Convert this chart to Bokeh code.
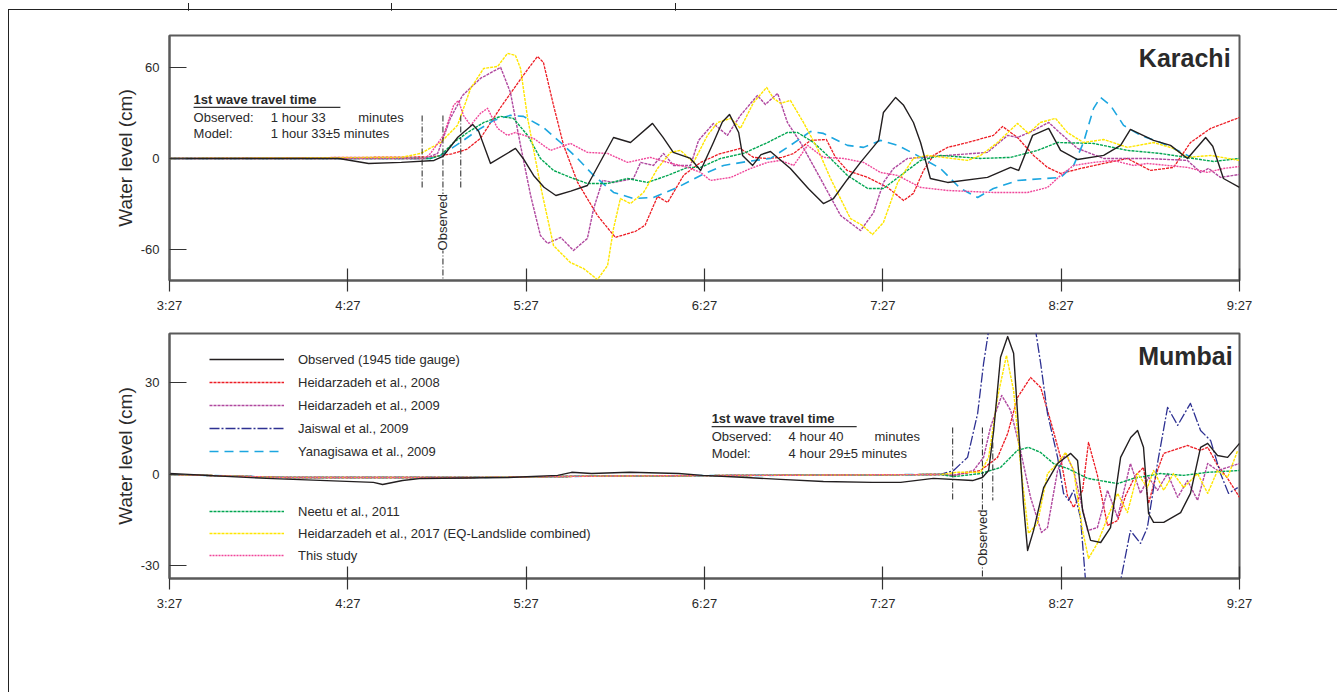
import math
from bokeh.plotting import figure
from bokeh.models import Range1d, FixedTicker, Label, BoxAnnotation, Legend, LegendItem, Div, Spacer
from bokeh.layouts import column, row
from bokeh.embed import file_html
from bokeh.resources import INLINE

# ---------------- data (minutes after 3:27, water level in cm) ----------------
time_ticks = [0, 60, 120, 180, 240, 300, 360]
time_labels = ["3:27", "4:27", "5:27", "6:27", "7:27", "8:27", "9:27"]
karachi_yticks = [-60, 0, 60]
mumbai_yticks = [-30, 0, 30]

series_names = ["Observed (1945 tide gauge)", "Heidarzadeh et al., 2008", "Heidarzadeh et al., 2009",
                "Jaiswal et al., 2009", "Yanagisawa et al., 2009", "Neetu et al., 2011",
                "Heidarzadeh et al., 2017 (EQ-Landslide combined)", "This study"]

k_obs = [(0, 0), (57, 0), (67, -3.3), (78, -2.6), (89, -1.3), (92, 1.3), (97, 14), (102, 22.4), (104, 18), (108, -3.3),
         (116.4, 6.6), (119, 0), (122.5, -11.2), (126, -19), (130, -24.4), (135, -21.5), (140.6, -17.8), (145, -2),
         (149.4, 13.8), (155.1, 10.5), (162.5, 23.1), (166, 14), (169.5, 4), (175.3, 0), (178.7, -7.9), (183, 10.5),
         (186, 24), (188.4, 29), (191.5, 17.1), (192.8, 2), (196.2, -4.6), (199, 2.5), (202.2, 4.6), (208.9, -6.6),
         (215, -20), (220, -29.7), (223.4, -26.4), (228, -14), (232.5, -2.6), (238.6, 11.9), (240.2, 30.3),
         (244.3, 40.2), (247, 35), (250.3, 23.7), (252.7, 10.5), (256, -13.2), (261.8, -15.8), (275.2, -12.5),
         (283, -5.9), (285.7, -7.9), (290.4, 15.2), (295.8, 19.8), (299.8, 5.3), (305.5, -0.7), (314.3, 2), (320, 8.6),
         (323.3, 19.1), (331.1, 11.9), (336.8, 8.6), (342.5, 0), (348.6, 13.8), (351, 8), (354.6, -13.2), (360, -19.1)]
k_h2008 = [(0, 0), (88, 1), (95, 3), (100, 6), (104.6, 13.2), (111.4, 33.6), (119, 54.7), (123.8, 67.2), (125.8, 63.3),
           (129.2, 35), (132.6, 8.6), (137.3, -15.8), (144, -37.6), (150, -52), (156.8, -48), (160, -44), (164.2, -25),
           (167.6, -29), (173, -11), (178.7, -2.6), (185, 3), (192, 6.6), (196.5, 0.7), (201, 0), (206, 0.7), (210, 3.3),
           (215.7, 11.9), (221, 12.5), (224, 1), (228, -7.9), (234.9, -12.5), (241.6, -19.1), (247, -27.7), (250.3, -23),
           (253.7, -7.9), (257, 2), (261.8, 7.3), (268.5, 10.5), (277.2, 15.2), (280.3, 21.1), (285.3, 13.8),
           (290.7, 2), (295.4, -5.9), (299.8, -9.9), (306.5, -6.6), (314.3, -3.3), (322.3, 0), (330, -7.9),
           (337.8, -5.9), (343.5, 10.5), (350.3, 19.8), (360, 27)]
k_h2009 = [(0, 0), (86, 0), (90.2, 3.3), (94.5, 26.4), (98.6, 41.5), (104.6, 52.7), (111.4, 60), (114.7, 43.5),
           (118.1, 8.6), (121.5, -24.4), (124.8, -50.8), (127.2, -56), (131.6, -52), (135.9, -60.6), (140.6, -52.7),
           (142.7, -33), (145.7, -14.5), (149.4, -15.8), (156.1, -13.2), (158.5, -2.6), (162.8, -4.6), (166.2, 3.3),
           (169.6, -4.6), (175.3, -4.6), (178, 11.9), (183, 23), (187.7, 15.2), (192.1, 28.4), (197.8, 41.5),
           (200.5, 35.6), (204.6, 42.9), (207.9, 23.7), (212.3, 10.5), (219, -13.2), (225.8, -37.6), (232.5, -47.5),
           (236.9, -35.6), (240.2, -15.8), (243.6, -6.6), (248.3, 0), (261.8, 2), (275.2, 4), (282, 15.2),
           (285.3, 13.8), (290.7, 18.5), (295.8, 23.7), (299.8, 16.5), (305.5, 6.6), (314.3, 0), (329, 0),
           (342.5, -1.3), (346.9, -9.2), (349.6, -6.6), (353.6, -12.5), (360, -10.5)]
k_yanagisawa = [(0, 0), (87.8, 0), (91.2, 2), (97.9, 10.5), (103.6, 18.5), (109, 25), (114.7, 28.4), (119.1, 27.7),
                (125.8, 20.4), (131.6, 10.5), (137.3, 0), (142.7, -11.2), (149.4, -22.4), (156.1, -26.4),
                (162.8, -25.7), (170.9, -19.1), (178.7, -11.2), (186.4, -4.6), (194.5, -2), (202.2, 0), (208.9, 8.6),
                (215.7, 17.8), (220, 16.5), (228.1, 8.6), (233.5, 7.3), (239.2, 11.9), (245, 8.6), (250.3, 3.3),
                (259.4, -6.6), (266.1, -19.8), (271.9, -25.7), (277.2, -19.8), (285.3, -14.5), (299.8, -12.5),
                (304.2, -4.6), (307.5, 10.5), (310.9, 33), (313.2, 40.2), (316.6, 35), (321, 21.8), (326.7, 15.2),
                (333.4, 10.5), (339.2, 5.3), (344.5, 0)]
k_neetu = [(0, 0), (87.8, 0), (91.2, 2), (95.6, 10.5), (100.3, 17.1), (105.7, 23.7), (111.4, 27.7), (115.7, 26.4),
           (120.5, 15.2), (124.8, 0), (129.2, -7.9), (134.9, -12.5), (140.6, -16.5), (147.4, -16.5), (154.1, -13.2),
           (160.8, -15.8), (167.6, -11.2), (174.3, -5.9), (178.7, -5.9), (185.4, 0), (193.1, 3.3), (201.2, 10.5),
           (207.9, 17.1), (211.3, 17.1), (216.7, 10.5), (222.4, 0), (228.1, -11.2), (234.9, -19.8), (240.2, -19.8),
           (246, -11.2), (252.7, -1.3), (259.4, 2), (272.9, 0), (283, 0.7), (292, 5.3), (298.8, 10.5), (310.9, 9.9),
           (322.3, 5.3), (333.4, 3.3), (344.5, 0), (351.3, -2), (360, 0)]
k_h2017 = [(0, 0), (78, 0.7), (84.5, 3.3), (91.2, 10.5), (96.9, 21.8), (101.3, 46.1), (105.7, 59.3), (110.4, 60.6),
           (113.7, 69.2), (116.4, 67.9), (118.1, 59.3), (120.5, 26.4), (124.8, -17.8), (129.2, -57.4), (134.9, -68.6),
           (139.3, -72.5), (144, -79.8), (147.4, -70.5), (149.4, -46.1), (151.7, -26.4), (155.1, -29.7),
           (159.5, -22.4), (164.2, -6.6), (168.6, 4), (171.9, 5.3), (176.3, -2.6), (181, 15.2), (184.4, 23.7),
           (188.8, 26.4), (192.1, 19.8), (196.5, 36.9), (200.9, 46.8), (203.2, 39.6), (205.6, 36.3), (208.9, 38.2),
           (213.3, 23.7), (218, 6.6), (222.4, -13.2), (229.1, -39.6), (233.2, -44.2), (236.5, -50.1), (240.2, -42.2),
           (245, -15.8), (250.3, 0), (255, 2), (268.5, -1.3), (272.9, 2), (278.6, 10.5), (285.3, 23.1), (289, 16.5),
           (293, 23.7), (298.1, 26.4), (302.1, 17.1), (307.5, 10.5), (314.3, 12.5), (322.3, 7.3), (331.1, 10.5),
           (337.8, 6.6), (342.5, 0.7), (350.3, 2), (360, -1.3)]
k_this = [(0, 0), (86, 0), (87.8, 3.3), (92.2, 15.2), (95.6, 35), (97.2, 38.2), (98.9, 28.4), (101.3, 21.8),
          (104.6, 29.7), (107, 33), (110.4, 19.8), (113.7, 15.2), (116.4, 17.1), (122.5, 13.2), (128.2, 5.3),
          (134.9, 9.9), (140.6, 4), (147.4, 3.3), (154.1, -2.6), (161.8, 0.7), (167.6, -2.6), (174.3, -5.9),
          (178.7, -9.2), (182, -14.5), (188.8, -12.5), (195.5, -6.6), (201.2, -2.6), (205.6, -1.3), (210, -4.6),
          (214.7, 8.6), (220, 0.7), (226.8, 0), (233.5, -2.6), (239.2, -9.2), (245, -11.2), (252.7, -19.1),
          (261.8, -21.1), (277.2, -22.4), (288.7, -22.4), (295.4, -19.1), (299.8, -11.2), (304.2, -4.6),
          (310.9, -2.6), (317.6, -1.3), (324.3, -4.6), (329, -3.3), (335.8, -4.6), (342.5, -5.9), (349.2, -9.2),
          (354.6, -6.6), (360, -5.3)]

m_obs = [(0, 0.3), (32.6, -1.3), (68.6, -2.6), (71.7, -3.3), (78.4, -2), (84.8, -1.3), (114, -1), (130.6, -0.3),
         (135.3, 0.7), (142, 0.3), (154.8, 0.7), (171.3, 0.3), (179.3, -0.3), (194.1, -1), (205.6, -1.6), (220, -2.3),
         (236.5, -2.6), (246, -2.6), (257, -1.3), (270.2, -2), (273.5, -1), (275.6, 1.3), (277.3, 14.4), (279.6, 38.4),
         (282, 45.2), (284, 39.7), (285.7, 14.4), (287.3, -9.5), (288.7, -24.9), (290.7, -18.4), (294.1, -4.3),
         (298.8, 3.6), (303.2, 6.9), (305.5, 4.6), (307.2, -11.8), (309.9, -21.6), (313.3, -22.3), (316.6, -17.4),
         (320, 5.6), (323.4, 12.1), (325.7, 14.4), (327.7, 8.9), (329.4, -12.8), (331.1, -15.7), (334.5, -15.7),
         (340.2, -12.5), (343.5, -6.2), (346.9, 8.9), (349.3, 10.2), (352.6, 6.2), (356, 5.6), (360, 10.2)]
m_quiet = [(0, 0), (40, -1), (100, -1), (150, -0.5), (200, -0.3), (259.4, 0)]
m_h2008 = m_quiet + [(263.8, -0.3), (272.9, 1.3), (278.6, 5.6), (282, 13.4), (285.3, 25.2), (289.7, 31.8),
                     (293.1, 28.5), (296.4, 17.7), (299.8, 5.6), (302.1, -6.9), (304.2, -10.8), (307.2, -5.2),
                     (309.2, 10.5), (312.2, -0.3), (315.6, -16.7), (319, -15.1), (321.7, -6.9), (325, -0.3),
                     (327.7, 2.3), (329.4, -9.5), (332.4, 1.3), (334.5, 6.9), (342.5, 9.5), (346.9, 7.9),
                     (349.3, 8.9), (352.6, 3), (356, -1.3), (360, -7.5)]
m_h2009 = m_quiet + [(263.8, -0.3), (270.5, 1.3), (273.9, 5.6), (276.2, 15.4), (280, 25.9), (283, 21), (286.3, 7.9),
                     (289.7, -7.5), (293.4, -19), (295.4, -17.4), (298.8, 1.3), (301.5, 6.9), (304.2, 1.3),
                     (308.9, -18.4), (312.2, -17.4), (315.6, -5.2), (319, -14.1), (323.3, 3.6), (326.7, -6.2),
                     (329.4, -1), (332.4, -5.2), (335.8, 0.3), (339.2, -7.5), (342.5, -2), (345.9, -8.5),
                     (349.3, 3.6), (352.6, 1.3), (356, 2.3), (360, 3.6)]
m_jaiswal = m_quiet + [(263.8, 1.3), (268.5, 5.6), (271.9, 20), (273.9, 36.4), (275.6, 47.2), (279, 70), (283, 80),
                       (287, 70), (291.4, 47.2), (293.1, 36.4), (295.4, 20), (298.8, 5.6), (300.8, -6.2),
                       (302.5, -8.5), (304.2, -5.2), (306.5, -14.1), (308.2, -34.8), (311, -50), (314, -55),
                       (317, -50), (320, -34.8), (323.3, -18.4), (326.7, -22.6), (329, -17.4), (332.4, 3.6),
                       (335.8, 22), (339.2, 16.1), (343.5, 23.3), (346.9, 14.4), (350.3, 11.1), (353.6, 0.3),
                       (356.3, -6.2), (359.4, -4.3)]
m_yanagisawa = list(m_quiet)
m_neetu = m_quiet + [(263.8, -0.7), (272.9, 0.3), (279.6, 2.3), (285.3, 7.9), (289, 8.9), (293.1, 7.2),
                     (297.4, 3.6), (302.1, 2), (308.9, -1.3), (319, -3), (324.3, -1.3), (333.4, 0.3), (341.2, -0.3),
                     (349.3, 0.7), (360, 1.3)]
m_h2017 = m_quiet + [(265, 0.7), (272.9, 0.7), (275.6, 5.6), (278.6, 25.2), (281.6, 39), (284, 27.5), (286.3, 3.6),
                     (289, -19.3), (292, -16.1), (295.4, 0.3), (298.8, 3.6), (301.5, 7.2), (304.2, 1.3),
                     (307.2, -18.4), (309.2, -27.5), (312.2, -22.6), (315.6, -14.1), (319, -6.2), (322.3, -12.5),
                     (325.7, 0.3), (329, -4.3), (331.1, 1.3), (334.5, -5.2), (337.8, 0.3), (341.2, -4.3),
                     (345.9, 0.3), (349.3, -6.2), (352.6, 1.3), (356, -1), (359.4, 7.9)]
m_this = list(m_quiet)

# first-wave travel-time markers (minutes after 3:27)
karachi_marks = [85, 92, 98]
mumbai_marks = [263.5, 273.5, 277]

# ---------------- styling ----------------
FONT = "Liberation Sans"
TXT = "#2a2a2a"
styles = [("#231F20", "solid", 1.4), ("#ED1C24", "3 1", 1.3), ("#B0489F", "3 1", 1.4),
          ("#2E3192", "10 2 2 2", 1.3), ("#1CA6E0", "9 6", 1.6), ("#00A651", "3 1", 1.4),
          ("#FFE600", "3 1", 1.4), ("#F0469A", "2 1", 1.4)]


def make_fig(height, ylo, yhi, yticks, top, bottom):
    p = figure(width=1328, height=height, x_range=Range1d(0, 360), y_range=Range1d(ylo, yhi),
               output_backend="svg", toolbar_location=None, min_border_left=160, min_border_right=98,
               min_border_top=top, min_border_bottom=bottom)
    p.grid.visible = False
    p.outline_line_color = "#5a5a5a"
    p.outline_line_width = 2
    p.background_fill_color = "white"
    p.border_fill_color = "white"
    p.xaxis.ticker = FixedTicker(ticks=time_ticks)
    p.xaxis.major_label_overrides = {t: l for t, l in zip(time_ticks, time_labels)}
    p.yaxis.ticker = FixedTicker(ticks=yticks)
    p.yaxis.major_label_overrides = {t: str(t) for t in yticks}
    for ax in (p.xaxis[0], p.yaxis[0]):
        ax.axis_line_color = "#5a5a5a"
        ax.axis_line_width = 2
        ax.major_tick_line_color = "#333333"
        ax.major_tick_line_width = 1.2
        ax.minor_tick_line_color = None
        ax.major_label_text_font = FONT
        ax.major_label_text_font_size = "13px"
        ax.major_label_text_color = TXT
    p.xaxis.major_tick_in = 12
    p.xaxis.major_tick_out = 11
    p.xaxis.major_label_standoff = 6
    p.yaxis.major_tick_in = 17
    p.yaxis.major_tick_out = 0
    p.yaxis.major_label_standoff = 10
    p.yaxis.axis_label = "Water level (cm)"
    p.yaxis.axis_label_text_font = FONT
    p.yaxis.axis_label_text_font_size = "19px"
    p.yaxis.axis_label_text_font_style = "normal"
    p.yaxis.axis_label_text_color = TXT
    p.yaxis.axis_label_standoff = 2
    return p


def draw_series(p, data):
    order = [1, 2, 3, 4, 5, 6, 7, 0]
    out = [None] * len(data)
    for i in order:
        pairs = data[i]
        if pairs is None:
            continue
        c, d, w = styles[i]
        out[i] = p.line([a for a, b in pairs], [b for a, b in pairs], line_color=c, line_dash=d, line_width=w,
                        line_join="round")
    return out


def travel_block(p, x0, ys, obs_txt, mod_txt, x_num, x_min, ul):
    kw = dict(text_font=FONT, text_font_size="13px", text_color=TXT, text_baseline="middle")
    p.add_layout(Label(x=x0, y=ys[0], text="1st wave travel time", text_font_style="bold", **kw))
    p.add_layout(Label(x=x0, y=ys[1], text="Observed:", **kw))
    p.add_layout(Label(x=x_num, y=ys[1], text=obs_txt, **kw))
    p.add_layout(Label(x=x_min, y=ys[1], text="minutes", **kw))
    p.add_layout(Label(x=x0, y=ys[2], text="Model:", **kw))
    p.add_layout(Label(x=x_num, y=ys[2], text=mod_txt, **kw))
    p.add_layout(BoxAnnotation(left=ul[0], right=ul[1], bottom=ul[2], top=ul[3],
                               fill_color="#333333", fill_alpha=1, line_color=None))


def marks(p, ts, tops, bots, obs_y):
    p.segment(x0=ts, y0=tops, x1=ts, y1=bots, line_color="#222222", line_dash="6 2 1 2", line_width=1)
    p.add_layout(Label(x=ts[1], y=obs_y, text="Observed", angle=math.pi / 2, text_align="center",
                       text_baseline="middle", text_font=FONT, text_font_size="13px", text_color=TXT,
                       background_fill_color="white"))


# ---------------- Karachi ----------------
p1 = make_fig(310, -80.4, 81, karachi_yticks, 25, 40)
draw_series(p1, [k_obs, k_h2008, k_h2009, None, k_yanagisawa, k_neetu, k_h2017, k_this])
marks(p1, karachi_marks, [28.3, 28.3, 28.3], [-19.8, -90, -19.8], -42)
travel_block(p1, 8.1, [38.9, 27.0, 16.2], "1 hour 33", "1 hour 33±5 minutes", 34.1, 63.5,
             (8.1, 57.5, 33.2, 34.0))
p1.add_layout(Label(x=357, y=66.5, text="Karachi", text_align="right", text_baseline="middle",
                    text_font=FONT, text_font_size="25px", text_font_style="bold", text_color=TXT))

# ---------------- Mumbai ----------------
p2 = make_fig(372, -34.1, 46.2, mumbai_yticks, 13, 114)
rm = draw_series(p2, [m_obs, m_h2008, m_h2009, m_jaiswal, m_yanagisawa, m_neetu, m_h2017, m_this])
marks(p2, mumbai_marks, [15.4, 15.4, 10.5], [-8.5, -40, -8.5], -20.7)
travel_block(p2, 182.4, [18.4, 12.5, 6.9], "4 hour 40", "4 hour 29±5 minutes", 208.3, 237.2,
             (182.4, 231.2, 15.5, 15.9))
p2.add_layout(Label(x=357.7, y=38.7, text="Mumbai", text_align="right", text_baseline="middle",
                    text_font=FONT, text_font_size="25px", text_font_style="bold", text_color=TXT))
for txt, yy in (("Wave height time series", -51.5), ("(Hours: minutes)", -59.3)):
    p2.add_layout(Label(x=190.8, y=yy, text=txt, text_align="center", text_baseline="middle",
                        text_font=FONT, text_font_size="18px", text_color=TXT))

leg_kw = dict(border_line_color=None, background_fill_alpha=0, padding=0, margin=0, glyph_height=20,
              glyph_width=75, label_height=20, label_standoff=14, label_text_font=FONT,
              label_text_font_size="13px", label_text_color=TXT)
leg1 = Legend(items=[LegendItem(label=series_names[i], renderers=[rm[i]]) for i in range(5)],
              location=(40, 117), spacing=3, **leg_kw)
leg2 = Legend(items=[LegendItem(label=series_names[i], renderers=[rm[i]]) for i in range(5, 8)],
              location=(40, 13), spacing=2, **leg_kw)
p2.add_layout(leg1)
p2.add_layout(leg2)

# page frame: table-like cell edges at the top, rules along the top and left of the figure block
cell_edges = [180, 383, 667]
top_html = ('<div style="position:relative;width:1329px;height:9px;">'
            + "".join('<div style="position:absolute;left:%dpx;top:0;width:1px;height:9px;background:#222;"></div>' % e
                      for e in cell_edges)
            + '</div>')
top_strip = Div(text=top_html, width=1329, height=9, styles={"margin": "0", "padding": "0"})
plots = column(p1, p2, spacing=0, styles={"border-left": "1px solid #222", "border-top": "1px solid #222"})
layout = row(Spacer(width=8, height=9), column(top_strip, plots, spacing=0), spacing=0)
open("out.html", "w").write(file_html(layout, INLINE))
